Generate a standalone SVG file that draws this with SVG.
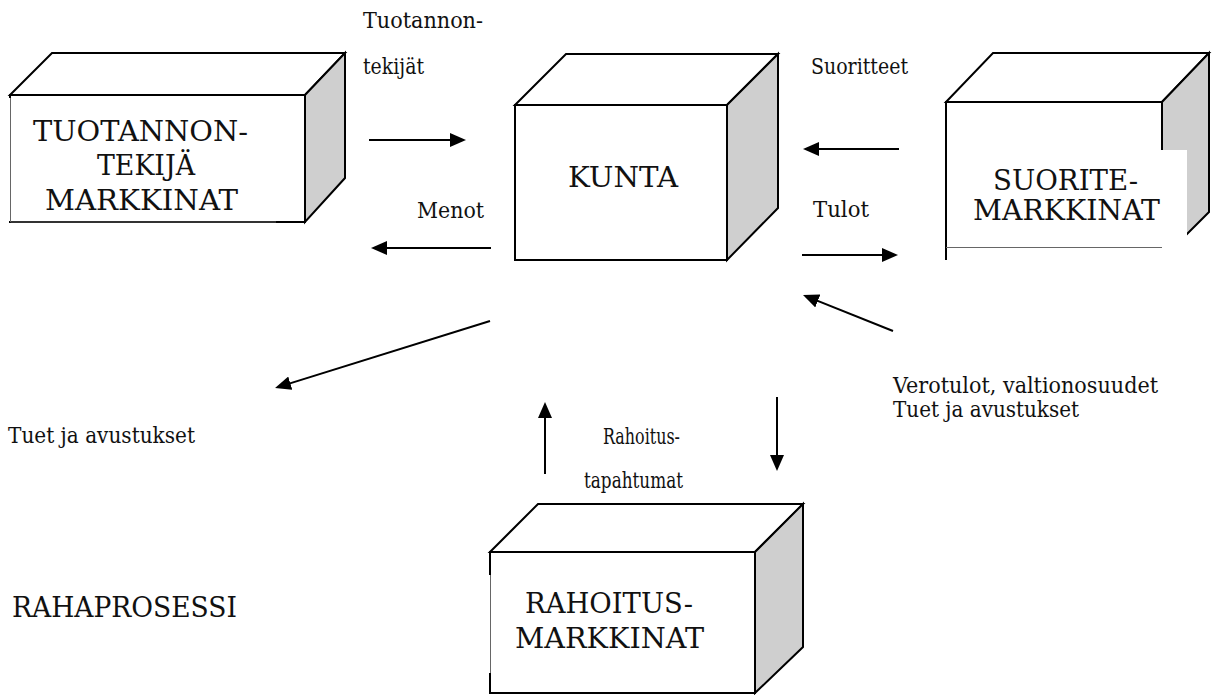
<svg xmlns="http://www.w3.org/2000/svg" width="1218" height="695" viewBox="0 0 1218 695">
<style>
.edge{stroke:#000;stroke-width:2;fill:#fff;stroke-linejoin:miter}
.side{stroke:#000;stroke-width:2;fill:#cfcfcf}
.big{font-family:'DejaVu Serif','Liberation Serif',serif;font-size:27px;fill:#111}
.lbl{font-family:'DejaVu Serif','Liberation Serif',serif;font-size:21.5px;fill:#111}
.conn{stroke:#000;stroke-width:2;fill:none;marker-end:url(#ah)}
.tb{fill:#fff;stroke:none}
.thin{stroke:#666;stroke-width:1;fill:none}
</style>
<defs>
<marker id="ah" viewBox="0 0 16 14" markerWidth="16" markerHeight="14" refX="13" refY="7" orient="auto" markerUnits="userSpaceOnUse">
<path d="M0,0 L16,7 L0,14 z" fill="#000"/>
</marker>
</defs>
<rect width="1218" height="695" fill="#fff"/>

<g id="tuotannon">
<polygon class="edge" points="10,95 52,53 345,53 305,95"/>
<polygon class="side" points="305,95 345,53 345,178 305,222"/>
<rect class="edge" x="10" y="95" width="295" height="127"/>
<rect class="tb" x="9" y="98" width="267" height="123"/>
<path class="thin" d="M10.5,98 V222 H276"/>
<text class="big" x="33" y="141" textLength="215" lengthAdjust="spacingAndGlyphs">TUOTANNON-</text>
<text class="big" x="97" y="175" textLength="98" lengthAdjust="spacingAndGlyphs">TEKIJÄ</text>
<text class="big" x="45" y="210" textLength="193" lengthAdjust="spacingAndGlyphs">MARKKINAT</text>
</g>

<g id="kunta">
<polygon class="edge" points="515,105 566,54 778,54 727,105"/>
<polygon class="side" points="727,105 778,54 778,208 727,260"/>
<rect class="edge" x="515" y="105" width="212" height="155"/>
<text class="big" x="568" y="187" textLength="110" lengthAdjust="spacingAndGlyphs">KUNTA</text>
</g>

<g id="suorite">
<polygon class="edge" points="946,102 993,53 1209,53 1162,102"/>
<polygon class="side" points="1162,102 1209,53 1209,212 1162,259"/>
<rect class="edge" x="946" y="102" width="216" height="157"/>
<rect class="tb" x="947" y="150" width="240" height="112"/>
<path d="M946,150 V247" stroke="#000" stroke-width="2"/>
<path class="thin" d="M946,247.5 H1162"/>
<text class="big" x="993" y="190" textLength="145" lengthAdjust="spacingAndGlyphs">SUORITE-</text>
<text class="big" x="973" y="220" textLength="187" lengthAdjust="spacingAndGlyphs">MARKKINAT</text>
</g>

<g id="rahoitus">
<polygon class="edge" points="490,552 538,504 803,504 755,552"/>
<polygon class="side" points="755,552 803,504 803,647 755,693"/>
<rect class="edge" x="490" y="552" width="265" height="141"/>
<rect class="tb" x="489" y="575" width="262" height="98"/>
<path class="thin" d="M490.5,575 V673"/>
<text class="big" x="525" y="613" textLength="168" lengthAdjust="spacingAndGlyphs">RAHOITUS-</text>
<text class="big" x="515" y="648" textLength="189" lengthAdjust="spacingAndGlyphs">MARKKINAT</text>
</g>

<g id="connectors">
<line class="conn" x1="369" y1="140" x2="463" y2="140"/>
<line class="conn" x1="491" y1="248" x2="374" y2="248"/>
<line class="conn" x1="899" y1="149" x2="806" y2="149"/>
<line class="conn" x1="802" y1="255" x2="895" y2="255"/>
<line class="conn" x1="490" y1="321" x2="277.9" y2="387.1"/>
<line class="conn" x1="893" y1="331" x2="805.8" y2="296.1"/>
<line class="conn" x1="545" y1="474" x2="545" y2="405"/>
<line class="conn" x1="777" y1="397" x2="777" y2="468"/>
</g>

<g id="labels">
<text class="lbl" x="363" y="28" textLength="120" lengthAdjust="spacingAndGlyphs">Tuotannon-</text>
<text class="lbl" x="363" y="74" textLength="61" lengthAdjust="spacingAndGlyphs">tekijät</text>
<text class="lbl" x="811" y="74" textLength="97" lengthAdjust="spacingAndGlyphs">Suoritteet</text>
<text class="lbl" x="417" y="218" textLength="67" lengthAdjust="spacingAndGlyphs">Menot</text>
<text class="lbl" x="813" y="217" textLength="56" lengthAdjust="spacingAndGlyphs">Tulot</text>
<text class="lbl" x="8" y="443" textLength="187" lengthAdjust="spacingAndGlyphs">Tuet ja avustukset</text>
<text class="lbl" x="603" y="444" textLength="77" lengthAdjust="spacingAndGlyphs">Rahoitus-</text>
<text class="lbl" x="584" y="488" textLength="99" lengthAdjust="spacingAndGlyphs">tapahtumat</text>
<text class="lbl" x="893" y="393" textLength="265" lengthAdjust="spacingAndGlyphs">Verotulot, valtionosuudet</text>
<text class="lbl" x="893" y="417" textLength="186" lengthAdjust="spacingAndGlyphs">Tuet ja avustukset</text>
<text class="big" x="12" y="617" textLength="225" lengthAdjust="spacingAndGlyphs">RAHAPROSESSI</text>
</g>
</svg>
